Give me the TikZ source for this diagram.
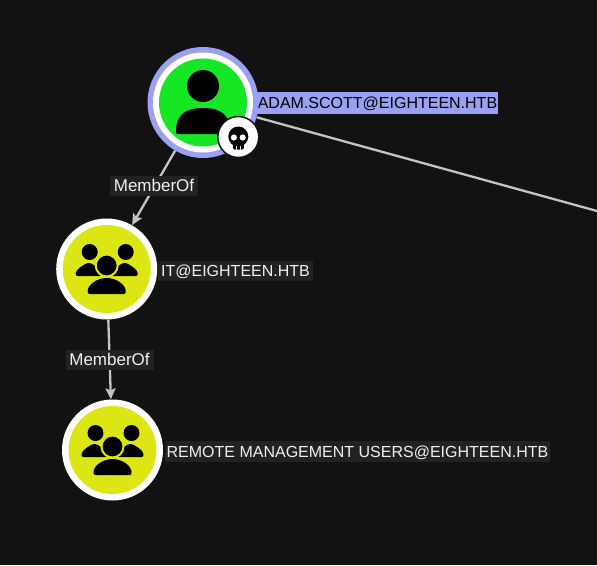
\documentclass[tikz,border=0pt]{standalone}
\usepackage{fontspec}
\setmainfont{Liberation Sans}
\usetikzlibrary{arrows.meta}
\definecolor{canvas}{HTML}{121212}
\definecolor{usergreen}{HTML}{17E625}
\definecolor{groupyellow}{HTML}{DDE615}
\definecolor{ringblue}{HTML}{9AA0F2}
\definecolor{edgegray}{HTML}{C4C4C4}
\definecolor{tagdark}{HTML}{222222}
\newcommand{\dome}[4]{(#1+2,#4) .. controls (#1,#4) and (#1,#4-1) .. (#1,#4-3)
	.. controls (#1,#3+7) and (#1+9,#3) .. (#1/2+#2/2,#3)
	.. controls (#2-9,#3) and (#2,#3+7) .. (#2,#4-3)
	.. controls (#2,#4-1) and (#2,#4) .. (#2-2,#4) -- cycle}
\tikzset{
	tag/.style={fill=tagdark, text=white!94!black, inner sep=0pt, minimum height=20, text height=11.5, text depth=0, anchor=center},
	edgetag/.style={tag, minimum width=88, font=\fontsize{17}{18}\selectfont},
	groupnode/.style={circle, fill=white, inner sep=0pt, minimum size=101},
	edgeline/.style={draw=edgegray, line width=2.3},
	edgearrow/.style={edgeline, -{Stealth[length=11,width=10,inset=2]}},
	pics/groupicon/.style={code={
		\fill[groupyellow] (0,0) circle (44);
		\fill[black] (-17,-17) circle (8) (19,-17) circle (8);
		\fill[black] \dome{-31}{-5}{-6}{7};
		\fill[black] \dome{5}{31}{-6}{7};
		\fill[black, draw=groupyellow, line width=2] (0,-3.5) circle (11);
		\fill[black] \dome{-19}{19}{9}{25};
	}}
}
\begin{document}
\begin{tikzpicture}[x=1pt,y=-1pt,font=\fontsize{16}{18}\selectfont]

	\fill[canvas] (0,0) rectangle (597,565);
	\useasboundingbox (0,0) rectangle (597,565);

	% Utente
	\node[tag, fill=ringblue, text=black, minimum width=244, minimum height=22] (adamlabel) at (376,103) {\hspace{3pt}ADAM.SCOTT@EIGHTEEN.HTB};
	\node[circle, fill=ringblue, inner sep=0pt, minimum size=111] (adam) at (203,102.5) {};
	\fill[white] (adam.center) circle (50);
	\fill[usergreen] (adam.center) circle (44);
	\fill[black] (203,86) circle (16);
	\fill[black] \dome{176}{230}{108}{134};

	% Teschio
	\node[circle, fill=white, draw=canvas, line width=1.5, inner sep=0pt, minimum size=41] (badge) at (238.3,137) {};
	\fill[black] (238.3,136.5) circle (10);
	\fill[black, rounded corners=1.5] (232.8,140) rectangle (243.8,149.5);
	\fill[white] (233.9,137.5) circle (3.1) (242.7,137.5) circle (3.1);
	\draw[white, line width=0.8] (236.5,145.5) -- (236.5,149.8) (240.1,145.5) -- (240.1,149.8);

	% Gruppi
	\node[groupnode] (it) at (106.7,269) {};
	\pic at (it.center) {groupicon};
	\node[tag, minimum width=155] (itlabel) at (235.5,271) {IT@EIGHTEEN.HTB};
	\node[groupnode] (remote) at (112.5,450) {};
	\pic at (remote.center) {groupicon};
	\node[tag, minimum width=385, minimum height=21] (remotelabel) at (357.5,451.5) {REMOTE MANAGEMENT USERS@EIGHTEEN.HTB};

	% Archi
	\coordinate (offcanvas) at (597,211);
	\draw[edgeline] (adam) -- (offcanvas);
	\draw[edgearrow] (adam) -- (it);
	\draw[edgearrow] (it) -- (remote);
	\node[edgetag] (memberoftop) at (154,186) {MemberOf};
	\node[edgetag] (memberofbottom) at (109.5,360) {MemberOf};
\end{tikzpicture}
\end{document}
